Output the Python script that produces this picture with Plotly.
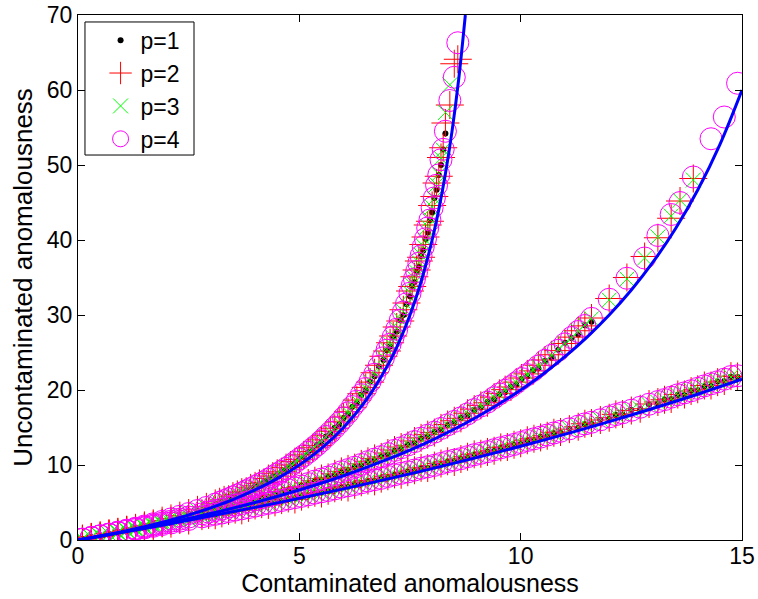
import plotly.graph_objects as go

# ---- fitted curves ----
curve_up_x = [0, 0.5, 1, 1.5, 2, 2.5, 3, 3.5, 4, 4.5, 5, 5.5, 6, 6.5, 7, 7.25, 7.5, 7.75, 8, 8.15, 8.3, 8.45, 8.6, 8.75]
curve_up_y = [0, 0.53, 1.11, 1.76, 2.5, 3.33, 4.29, 5.38, 6.67, 8.18, 10, 12.22, 15, 18.57, 23.33, 26.36, 30, 34.44, 40, 44.05, 48.82, 54.52, 61.43, 70]
curve_mid_x = [0, 1, 2, 3, 4, 5, 6, 7, 8, 9, 10, 10.5, 11, 11.5, 12, 12.5, 13, 13.5, 14, 14.5, 15]
curve_mid_y = [0, 1.05, 2.22, 3.53, 5, 6.67, 8.57, 10.77, 13.33, 16.36, 20, 22.11, 24.44, 27.06, 30, 33.33, 37.14, 41.54, 46.67, 52.73, 60]
curve_low_x = [0, 2, 4, 6, 8, 10, 12, 14, 15]
curve_low_y = [0, 2.08, 4.35, 6.82, 9.52, 12.5, 15.79, 19.44, 21.43]

# ---- scatter points: upper branch ----
xu = [0.1, 0.3, 0.5, 0.7, 0.9, 1.1, 1.3, 1.5, 1.7, 1.9, 2.1, 2.3, 2.5, 2.7, 2.9, 3.1, 3.3, 3.5, 3.7, 3.9,
      4.1, 4.3, 4.5, 4.7, 4.9, 5.1, 5.3, 5.5, 5.7, 5.9, 6.1, 6.3, 6.5, 6.7, 6.9, 7.05, 7.2, 7.35, 7.5, 7.6,
      7.7, 7.8, 7.9, 8.0, 8.1, 8.2, 8.3, 8.4, 8.5, 8.58]
p1_u = [0.1, 0.32, 0.55, 0.77, 1.02, 1.28, 1.55, 1.83, 2.12, 2.44, 2.77, 3.12, 3.48, 3.88, 4.28, 4.72, 5.2, 5.68, 6.2, 6.76,
        7.36, 8.0, 8.68, 9.42, 10.22, 11.1, 12.05, 13.06, 14.18, 15.4, 16.76, 18.25, 19.95, 21.85, 24.0, 25.8, 27.8, 30.0, 32.5, 34.4,
        36.4, 38.6, 41.0, 43.7, 46.7, 50.0, 54.2, None, None, None]
p2_u = [0.15, 0.38, 0.6, 0.85, 1.1, 1.38, 1.62, 1.95, 2.22, 2.58, 2.88, 3.25, 3.6, 4.02, 4.42, 4.88, 5.35, 5.85, 6.38, 6.95,
        7.55, 8.2, 8.9, 9.65, 10.45, 11.35, 12.3, 13.35, 14.5, 15.75, 17.1, 18.65, 20.35, 22.3, 24.5, 26.3, 28.4, 30.7, 33.2, 35.1,
        37.2, 39.4, 42.0, 44.6, 47.6, 51.0, 55.6, 58.0, 63.5, 64.1]
p3_u = [0.12, 0.34, 0.57, 0.8, 1.05, 1.32, 1.58, 1.88, 2.18, 2.5, 2.83, 3.18, 3.55, 3.95, 4.36, 4.8, 5.28, 5.78, 6.3, 6.88,
        7.48, 8.12, 8.82, 9.58, 10.4, 11.28, 12.24, 13.26, 14.4, 15.65, 17.0, 18.55, 20.25, 22.15, 24.35, 26.15, 28.2, 30.5, 33.0, 34.9,
        37.0, 39.2, 41.8, 44.4, 47.4, 50.9, 57.0, 60.7, None, None]
p4_u = [0.11, 0.33, 0.56, 0.79, 1.04, 1.31, 1.57, 1.86, 2.16, 2.48, 2.81, 3.16, 3.53, 3.93, 4.34, 4.78, 5.26, 5.75, 6.28, 6.85,
        7.45, 8.1, 8.8, 9.55, 10.36, 11.24, 12.2, 13.22, 14.36, 15.6, 16.97, 18.5, 20.2, 22.1, 24.3, 26.1, 28.1, 30.4, 32.9, 34.8,
        36.9, 39.1, 41.6, 44.3, 47.3, 50.7, 54.5, 58.6, 61.7, 66.3]
xu2 = [3.2, 3.4, 3.6, 3.8, 4.0, 4.2, 4.4, 4.6, 4.8, 5.0, 5.2, 5.4, 5.6, 5.8, 6.0, 6.2, 6.4, 6.6, 6.8, 6.98,
       7.12, 7.28, 7.42, 7.55, 7.65, 7.75, 7.85, 7.95, 8.05, 8.15, 8.25]
p1_u2 = [5.01, 5.48, 5.99, 6.55, 7.13, 7.74, 8.44, 9.15, 9.91, 10.79, 11.69, 12.67, 13.8, 14.97, 16.27, 17.78, 19.37, 21.15, 23.15, 25.3,
         27.06, 29.29, 31.48, 33.89, 35.79, 37.87, 40.15, 42.65, 45.6, 48.67, 52.08]
p2_u2 = [5.1, 5.42, 6.08, 6.5, 7.22, 7.68, 8.52, 9.1, 10.0, 10.72, 11.8, 12.6, 13.9, 14.9, 16.4, 17.7, 19.5, 21.05, 23.3, 25.2,
         27.2, 29.2, 31.6, 33.8, 36.0, 37.7, 40.4, 42.5, 45.8, 48.5, 52.3]
p3_u2 = [4.98, 5.52, 5.96, 6.6, 7.1, 7.8, 8.4, 9.2, 9.88, 10.85, 11.65, 12.72, 13.76, 15.02, 16.22, 17.85, 19.3, 21.2, 23.1, 25.4,
         27.0, 29.4, 31.4, 34.0, 35.7, 38.0, 40.0, 42.8, 45.5, 48.8, 52.0]
p4_u2 = [5.02, 5.49, 6.0, 6.56, 7.14, 7.75, 8.45, 9.16, 9.92, 10.8, 11.7, 12.68, 13.81, 14.98, 16.28, 17.79, 19.38, 21.16, 23.16, 25.31,
         27.07, 29.3, 31.49, 33.9, 35.8, 37.88, 40.16, 42.66, 45.61, 48.68, 52.09]

# ---- scatter points: middle branch ----
xm = [0.1, 0.3, 0.5, 0.7, 0.9, 1.1, 1.3, 1.5, 1.7, 1.9, 2.1, 2.3, 2.5, 2.8, 3.1, 3.4, 3.7, 4.0, 4.3, 4.6,
      4.9, 5.2, 5.5, 5.8, 6.1, 6.4, 6.7, 7.0, 7.3, 7.6, 7.9, 8.2, 8.5, 8.8, 9.1, 9.4, 9.65, 9.9, 10.15, 10.4,
      10.7, 11.0, 11.3, 11.6, 12.0, 12.4, 12.8, 13.1, 13.4, 13.6, 13.9, 14.3, 14.6, 14.9]
p1_m = [0.1, 0.32, 0.54, 0.77, 0.99, 1.23, 1.47, 1.71, 1.96, 2.22, 2.48, 2.75, 3.02, 3.45, 3.88, 4.33, 4.8, 5.28, 5.78, 6.3,
        6.85, 7.42, 8.01, 8.62, 9.26, 9.93, 10.64, 11.37, 12.13, 12.94, 13.78, 14.67, 15.6, 16.6, 17.65, 18.75, 19.7, 20.7, 21.8, 22.9,
        24.3, 26.3, 27.4, 29.1, None, None, None, None, None, None, None, None, None, None]
p2_m = [0.14, 0.36, 0.6, 0.82, 1.06, 1.3, 1.55, 1.78, 2.05, 2.3, 2.57, 2.84, 3.12, 3.55, 3.98, 4.45, 4.92, 5.42, 5.92, 6.45,
        7.0, 7.6, 8.2, 8.82, 9.48, 10.15, 10.88, 11.6, 12.4, 13.2, 14.05, 14.95, 15.9, 16.9, 17.95, 19.05, 20.05, 21.05, 22.15, 23.3,
        24.7, 26.2, 27.9, 29.6, 32.2, 35.0, 37.8, 40.3, 42.9, 45.2, 48.2, None, None, None]
p3_m = [0.12, 0.34, 0.56, 0.79, 1.02, 1.26, 1.5, 1.75, 2.0, 2.27, 2.53, 2.8, 3.08, 3.5, 3.95, 4.4, 4.88, 5.37, 5.88, 6.41,
        6.96, 7.54, 8.14, 8.76, 9.41, 10.1, 10.8, 11.55, 12.32, 13.15, 14.0, 14.9, 15.85, 16.85, 17.9, 19.0, 20.0, 21.0, 22.1, 23.2,
        24.65, 26.2, 27.85, 29.5, 32.0, 34.8, 37.6, 40.4, 43.2, 45.3, 48.0, None, None, None]
p4_m = [0.11, 0.33, 0.55, 0.78, 1.01, 1.25, 1.49, 1.73, 1.99, 2.25, 2.51, 2.78, 3.06, 3.49, 3.93, 4.39, 4.86, 5.35, 5.86, 6.39,
        6.94, 7.52, 8.12, 8.74, 9.39, 10.07, 10.79, 11.52, 12.3, 13.12, 13.97, 14.87, 15.81, 16.81, 17.87, 18.98, 19.96, 20.97, 22.05, 23.19,
        24.62, 26.15, 27.8, 29.55, 32.1, 34.9, 37.6, 40.6, 43.4, 45.0, 48.4, 53.5, 56.4, 60.9]
xm2 = [2.95, 3.25, 3.55, 3.85, 4.15, 4.45, 4.75, 5.05, 5.35, 5.65, 5.95, 6.25, 6.55, 6.85, 7.15, 7.45, 7.75, 8.05, 8.35, 8.65,
       8.95, 9.25, 9.52, 9.78, 10.02, 10.28, 10.55, 10.85, 11.15, 11.45]
p1_m2 = [3.7, 4.14, 4.61, 5.1, 5.6, 6.12, 6.66, 7.22, 7.8, 8.41, 9.05, 9.72, 10.41, 11.14, 11.9, 12.69, 13.53, 14.4, 15.32, 16.3,
         17.32, 18.4, 19.43, 20.47, 21.48, 22.62, 23.88, 25.37, 26.95, 28.64]
p2_m2 = [3.78, 4.08, 4.7, 5.02, 5.7, 6.05, 6.76, 7.15, 7.9, 8.35, 9.15, 9.65, 10.5, 11.08, 12.0, 12.62, 13.62, 14.32, 15.4, 16.22,
         17.45, 18.3, 19.55, 20.4, 21.6, 22.55, 24.0, 25.25, 27.05, 28.55]
p3_m2 = [3.66, 4.18, 4.58, 5.14, 5.56, 6.16, 6.62, 7.27, 7.76, 8.46, 9.0, 9.78, 10.38, 11.2, 11.86, 12.75, 13.5, 14.45, 15.28, 16.35,
         17.28, 18.45, 19.4, 20.52, 21.45, 22.68, 23.82, 25.45, 26.9, 28.7]
p4_m2 = [3.72, 4.12, 4.65, 5.08, 5.64, 6.1, 6.7, 7.2, 7.85, 8.4, 9.1, 9.7, 10.45, 11.12, 11.95, 12.68, 13.58, 14.38, 15.36, 16.28,
         17.38, 18.38, 19.48, 20.45, 21.52, 22.6, 23.95, 25.3, 27.0, 28.6]

# ---- scatter points: lower branch ----
xl = [0.1, 0.3, 0.5, 0.7, 0.9, 1.1, 1.3, 1.5, 1.7, 1.9, 2.1, 2.3, 2.5, 2.8, 3.1, 3.4, 3.7, 4.0, 4.3, 4.6,
      4.9, 5.2, 5.5, 5.8, 6.1, 6.4, 6.7, 7.0, 7.3, 7.6, 7.9, 8.2, 8.5, 8.8, 9.1, 9.4, 9.7, 10.0, 10.3, 10.6,
      10.9, 11.3, 11.6, 12.0, 12.3, 12.7, 13.1, 13.4, 13.7, 14.0, 14.3, 14.6, 14.9]
p1_l = [0.1, 0.31, 0.52, 0.73, 0.94, 1.15, 1.37, 1.58, 1.8, 2.03, 2.25, 2.48, 2.7, 3.04, 3.38, 3.74, 4.1, 4.46, 4.82, 5.2,
        5.57, 5.95, 6.33, 6.72, 7.12, 7.52, 7.93, 8.34, 8.76, 9.18, 9.61, 10.06, 10.5, 10.95, 11.4, 11.87, 12.33, 12.81, 13.29, 13.79,
        14.29, 14.97, 15.48, 16.18, 16.72, 17.45, 18.2, 18.77, 19.34, 19.93, 20.53, 21.14, 21.7]
p2_l = [0.18, 0.42, 0.45, 0.88, 0.85, 1.32, 1.28, 1.78, 1.72, 2.22, 2.18, 2.66, 2.6, 3.18, 3.3, 3.88, 3.95, 4.6, 4.68, 5.32,
        5.4, 6.1, 6.2, 6.9, 7.0, 7.7, 7.82, 8.5, 8.7, 9.3, 9.6, 10.2, 10.4, 11.1, 11.5, 11.9, 12.4, 12.9, 13.5, 13.9,
        14.4, 15.1, 15.6, 16.3, 16.8, 17.5, 18.4, 18.8, 19.4, 20.1, 20.6, 21.2, 21.8]
p3_l = [0.12, 0.35, 0.5, 0.8, 0.93, 1.22, 1.36, 1.68, 1.8, 2.1, 2.24, 2.55, 2.7, 3.12, 3.38, 3.82, 4.1, 4.52, 4.8, 5.28,
        5.55, 6.02, 6.35, 6.8, 7.18, 7.62, 7.96, 8.45, 8.85, 9.28, 9.72, 10.15, 10.6, 11.05, 11.55, 11.95, 12.45, 12.95, 13.4, 13.95,
        14.4, 15.1, 15.6, 16.3, 16.85, 17.5, 18.35, 18.85, 19.5, 20.1, 20.7, 21.3, 21.8]
p4_l = [0.1, 0.32, 0.53, 0.74, 0.95, 1.17, 1.39, 1.61, 1.83, 2.06, 2.28, 2.51, 2.74, 3.09, 3.43, 3.8, 4.16, 4.52, 4.89, 5.27,
        5.65, 6.03, 6.43, 6.82, 7.23, 7.63, 8.05, 8.47, 8.89, 9.32, 9.76, 10.2, 10.65, 11.11, 11.56, 12.04, 12.51, 13.0, 13.49, 13.99,
        14.5, 15.18, 15.7, 16.42, 16.96, 17.7, 18.46, 19.04, 19.62, 20.22, 20.83, 21.44, 21.9]
xl2 = [2.95, 3.25, 3.55, 3.85, 4.15, 4.45, 4.75, 5.05, 5.35, 5.65, 5.95, 6.25, 6.55, 6.85, 7.15, 7.45, 7.75, 8.05, 8.35, 8.65,
       8.95, 9.25, 9.55, 9.85, 10.15, 10.45, 10.75, 11.1, 11.45, 11.8, 12.15, 12.5, 12.9, 13.25, 13.55, 13.85, 14.15, 14.45, 14.75]
p1_l2 = [3.25, 3.61, 3.96, 4.33, 4.7, 5.07, 5.45, 5.83, 6.22, 6.61, 7.01, 7.42, 7.83, 8.24, 8.67, 9.09, 9.53, 9.97, 10.41, 10.87,
         11.33, 11.79, 12.27, 12.75, 13.23, 13.73, 14.23, 14.83, 15.44, 16.05, 16.68, 17.32, 18.07, 18.74, 19.32, 19.91, 20.51, 21.13, 21.75]
p2_l2 = [3.35, 3.55, 4.05, 4.28, 4.78, 5.02, 5.54, 5.78, 6.3, 6.56, 7.1, 7.36, 7.92, 8.18, 8.75, 9.04, 9.62, 9.92, 10.5, 10.8,
         11.42, 11.74, 12.35, 12.7, 13.3, 13.68, 14.3, 14.78, 15.5, 16.0, 16.75, 17.26, 18.13, 18.7, 19.4, 19.86, 20.6, 21.05, 21.85]
p3_l2 = [3.24, 3.64, 3.95, 4.36, 4.69, 5.1, 5.44, 5.86, 6.21, 6.64, 7.0, 7.45, 7.82, 8.28, 8.66, 9.12, 9.52, 10.0, 10.4, 10.9,
         11.32, 11.83, 12.26, 12.78, 13.22, 13.77, 14.22, 14.86, 15.43, 16.08, 16.67, 17.36, 18.06, 18.78, 19.3, 19.95, 20.5, 21.17, 21.74]
p4_l2 = [3.28, 3.6, 3.99, 4.32, 4.73, 5.06, 5.48, 5.82, 6.25, 6.6, 7.05, 7.4, 7.86, 8.22, 8.7, 9.08, 9.57, 9.95, 10.45, 10.85,
         11.37, 11.78, 12.3, 12.74, 13.27, 13.72, 14.27, 14.82, 15.48, 16.03, 16.72, 17.3, 18.1, 18.72, 19.36, 19.9, 20.55, 21.1, 21.8]

series_names = ["p=1", "p=2", "p=3", "p=4"]
x_ticks = [0, 5, 10, 15]
y_ticks = [0, 10, 20, 30, 40, 50, 60, 70]


def combine(pairs):
    xs, ys = [], []
    for xa, ya in pairs:
        n = min(len(xa), len(ya))
        for i in range(n):
            if ya[i] is not None:
                xs.append(xa[i])
                ys.append(ya[i])
    return xs, ys


data_sets = [
    combine([(xu, p1_u), (xu2, p1_u2), (xm, p1_m), (xm2, p1_m2), (xl, p1_l), (xl2, p1_l2)]),
    combine([(xu, p2_u), (xu2, p2_u2), (xm, p2_m), (xm2, p2_m2), (xl, p2_l), (xl2, p2_l2)]),
    combine([(xu, p3_u), (xu2, p3_u2), (xm, p3_m), (xm2, p3_m2), (xl, p3_l), (xl2, p3_l2)]),
    combine([(xu, p4_u), (xu2, p4_u2), (xm, p4_m), (xm2, p4_m2), (xl, p4_l), (xl2, p4_l2)]),
]
markers = [
    dict(symbol="circle", size=6, color="black"),
    dict(symbol="cross-thin", size=20, color="#ff0000", line=dict(color="#ff0000", width=1)),
    dict(symbol="x-thin", size=15, color="#00ff00", line=dict(color="#00ff00", width=1)),
    dict(symbol="circle-open", size=22, color="#ff00ff", line=dict(color="#ff00ff", width=1)),
]

fig = go.Figure()
for name, (xs, ys), mk in zip(series_names, data_sets, markers):
    fig.add_trace(go.Scatter(x=xs, y=ys, mode="markers", name=name, marker=mk))

for cx, cy in [(curve_up_x, curve_up_y), (curve_mid_x, curve_mid_y), (curve_low_x, curve_low_y)]:
    fig.add_trace(go.Scatter(x=cx, y=cy, mode="lines", line=dict(color="#0000ff", width=3, shape="spline"),
                             showlegend=False, hoverinfo="skip"))

# legend frame (MATLAB style box)
fig.add_shape(type="rect", xref="paper", yref="paper", x0=0.0105, x1=0.1747, y0=0.7333, y1=0.9867,
              line=dict(color="black", width=1), fillcolor="white", layer="above")

font = dict(family="Liberation Sans, Arial, sans-serif", size=24, color="black")
fig.update_layout(
    width=758, height=599,
    margin=dict(l=78, r=16, t=15, b=59),
    paper_bgcolor="white", plot_bgcolor="white",
    font=font,
    showlegend=True,
    legend=dict(x=0.034, y=0.993, xanchor="left", yanchor="top", bgcolor="rgba(0,0,0,0)",
                borderwidth=0, font=dict(size=23), tracegroupgap=0),
    xaxis=dict(range=[0, 15], tickvals=x_ticks, ticks="inside", ticklen=7, tickcolor="black",
               showline=True, linecolor="black", linewidth=1, mirror="ticks", showgrid=False, zeroline=False,
               automargin=False, tickfont=dict(size=23),
               title=dict(text="Contaminated anomalousness", standoff=1, font=dict(size=25))),
    yaxis=dict(range=[0, 70], tickvals=y_ticks, ticks="inside", ticklen=7, tickcolor="black",
               showline=True, linecolor="black", linewidth=1, mirror="ticks", showgrid=False, zeroline=False,
               automargin=False, tickfont=dict(size=23),
               title=dict(text="Uncontaminated anomalousness", standoff=6, font=dict(size=26))),
)

# pull the x tick labels a little closer to the axis (MATLAB spacing), if supported
try:
    fig.update_xaxes(ticklabelstandoff=-5)
    fig.update_xaxes(title_standoff=6)
except Exception:
    pass

fig.write_html("out.html", config={"displayModeBar": False},
               post_script="document.body.style.margin='0px';document.body.style.padding='0px';")
